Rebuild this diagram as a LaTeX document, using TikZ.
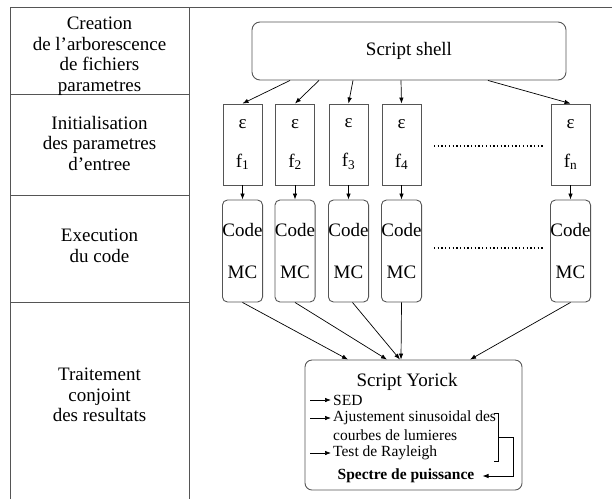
\documentclass[tikz,border=0pt]{standalone}
\usepackage{fontspec}
\setmainfont{Liberation Serif}
\usetikzlibrary{arrows.meta, positioning}
\definecolor{framegray}{RGB}{85,85,85}

\begin{document}
\begin{tikzpicture}[x=1pt, y=-1pt,
			phase/.style={align=center, font=\fontsize{19}{20.5}\selectfont},
			param/.style={rectangle, draw=framegray, line width=0.9pt, minimum width=39pt, minimum height=81pt, align=center, inner sep=0pt, font=\fontsize{19}{20}\selectfont},
			mcbox/.style={rectangle, draw=framegray, line width=0.9pt, rounded corners=5pt, minimum width=39pt, minimum height=102pt, align=center, inner sep=0pt, font=\fontsize{19}{20}\selectfont},
			item/.style={anchor=west, inner sep=0pt, font=\fontsize{15.5}{17}\selectfont},
			arrow/.style={-{Latex[length=6pt, width=4.5pt]}, line width=0.7pt},
			etc/.style={line width=1.3pt, dash pattern=on 1.3pt off 2.4pt}
		]
		\useasboundingbox (0,0) rectangle (612,499);
		
		% Frame and phase column
		\draw[framegray, line width=0.9pt] (10,499) -- (10,7) -- (612,7);
		\draw[framegray, line width=0.9pt] (189,7) -- (189,499);
		\draw[framegray, line width=0.9pt] (10,94) -- (189,94);
		\draw[framegray, line width=0.9pt] (10,195) -- (189,195);
		\draw[framegray, line width=0.9pt] (10,302) -- (189,302);
		
		% Phase titles
		\node[phase] (ph_tree) at (99.5,56) {Creation\\de l’arborescence\\de fichiers\\parametres};
		\node[phase] (ph_init) at (99.5,143) {Initialisation\\des parametres\\d’entree};
		\node[phase] (ph_exec) at (99.5,246) {Execution\\du code};
		\node[phase] (ph_post) at (99.5,395) {Traitement\\conjoint\\des resultats};
		
		% Shell script
		\node[rectangle, draw=framegray, line width=0.9pt, rounded corners=8pt, minimum width=314pt, minimum height=58pt, font=\fontsize{19}{20}\selectfont] (shell) at (409,51) {Script shell};
		
		% Parameter sets
		\node[param] (p1) at (242.5,144.5) {ε\\[19pt]f\textsubscript{1}};
		\node[param] (p2) at (295,144.5) {ε\\[19pt]f\textsubscript{2}};
		\node[param] (p3) at (348.5,144.5) {ε\\[19pt]f\textsubscript{3}};
		\node[param] (p4) at (401.5,144.5) {ε\\[19pt]f\textsubscript{4}};
		\node[param] (pn) at (570.5,144.5) {ε\\[19pt]f\textsubscript{n}};
		
		% MC runs
		\node[mcbox] (c1) at (242.5,251) {Code\\[22pt]MC};
		\node[mcbox] (c2) at (295,251) {Code\\[22pt]MC};
		\node[mcbox] (c3) at (348.5,251) {Code\\[22pt]MC};
		\node[mcbox] (c4) at (401.5,251) {Code\\[22pt]MC};
		\node[mcbox] (cn) at (570.5,251) {Code\\[22pt]MC};
		
		% Ellipsis
		\coordinate (dots_p_a) at (434,146);
		\coordinate (dots_p_b) at (543,146);
		\coordinate (dots_c_a) at (434,248);
		\coordinate (dots_c_b) at (543,248);
		\draw[etc] (dots_p_a) -- (dots_p_b);
		\draw[etc] (dots_c_a) -- (dots_c_b);
		
		% Yorick post-processing
		\node[rectangle, draw=framegray, line width=0.9pt, rounded corners=7pt, minimum width=217pt, minimum height=130pt] (yorick) at (413.5,425) {};
		\node[font=\fontsize{19}{20}\selectfont] (y_title) at (407,382) {Script Yorick};
		\node[item] (y_sed) at (333,400) {SED};
		\node[item] (y_fit) at (333,418) {Ajustement sinusoidal des};
		\node[item] (y_fit2) at (333,435) {courbes de lumieres};
		\node[item] (y_ray) at (333,453) {Test de Rayleigh};
		\node[font=\fontsize{15.5}{17}\selectfont\bfseries, inner sep=0pt] (y_spec) at (406,476) {Spectre de puissance};
		
		% Bracket
		\coordinate (br_top) at (498,413);
		\coordinate (br_bot) at (498,461);
		\coordinate (br_mid) at (498,437);
		\coordinate (br_out) at (513,437);
		\draw[line width=0.7pt] ([xshift=-4pt]br_top) -- (br_top) -- (br_bot) -- ([xshift=-4pt]br_bot);
		\draw[arrow] (br_mid) -- (br_out) |- ([xshift=8pt]y_spec.east);
		
		% Item arrows
		\draw[arrow] ([xshift=-23pt]y_sed.west) -- ([xshift=-2pt]y_sed.west);
		\draw[arrow] ([xshift=-23pt]y_fit.west) -- ([xshift=-2pt]y_fit.west);
		\draw[arrow] ([xshift=-23pt]y_ray.west) -- ([xshift=-2pt]y_ray.west);
		
		% Shell to parameter sets
		\draw[arrow] ([xshift=-119pt]shell.south) -- (p1.north);
		\draw[arrow] ([xshift=-90pt]shell.south) -- (p2.north);
		\draw[arrow] ([xshift=-56pt]shell.south) -- (p3.north);
		\draw[arrow] ([xshift=-8pt]shell.south) -- (p4.north);
		\draw[arrow] ([xshift=79pt]shell.south) -- (pn.north);
		
		% Parameter sets to runs
		\draw[arrow] (p1.south) -- (c1.north);
		\draw[arrow] (p2.south) -- (c2.north);
		\draw[arrow] (p3.south) -- (c3.north);
		\draw[arrow] (p4.south) -- (c4.north);
		\draw[arrow] (pn.south) -- (cn.north);
		
		% Runs to Yorick
		\draw[arrow] (c1.south) -- ([xshift=-65.5pt]yorick.north);
		\draw[arrow] (c2.south) -- ([xshift=-26.5pt]yorick.north);
		\draw[arrow] ([xshift=4pt]c3.south) -- ([xshift=-13.5pt]yorick.north);
		\draw[arrow] (c4.south) -- ([xshift=-12.5pt]yorick.north);
		\draw[arrow] (cn.south) -- ([xshift=56.5pt]yorick.north);
		\end{tikzpicture}
\end{document}
